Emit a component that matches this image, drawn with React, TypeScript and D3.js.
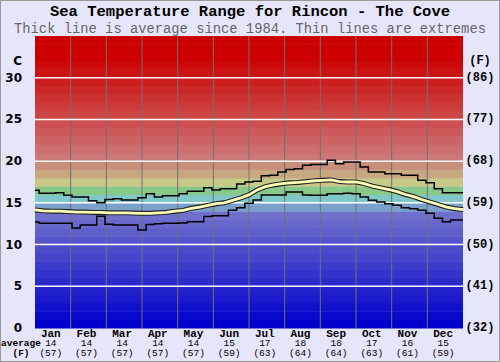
import React, { useEffect, useRef } from 'react';
import * as d3 from "d3";

// weekly readings (deg C), week 0 = 1 Jan
const maxTemps = [16.5, 16.15, 16.15, 16.2, 15.9, 15.7, 15.7, 15.25, 15.0, 15.4, 15.5, 15.35, 15.35, 15.6,
  16.1, 15.7, 15.85, 15.85, 16.1, 16.4, 16.4, 16.8, 16.55, 16.7, 16.7, 17.25, 17.5, 17.6, 18.25, 18.3,
  18.7, 19.0, 19.1, 19.5, 19.6, 19.6, 20.1, 19.7, 19.9, 19.9, 19.3, 18.7, 18.7, 18.5, 18.5, 18.3, 18.3,
  17.7, 17.4, 16.7, 16.2, 16.2, 16.2];
const avgTemps = [14.15, 14.05, 14.0, 14.0, 13.95, 13.9, 13.9, 13.85, 13.85, 13.8, 13.8, 13.8, 13.78, 13.75,
  13.75, 13.8, 13.87, 14.0, 14.1, 14.35, 14.5, 14.7, 14.9, 15.0, 15.3, 15.6, 15.95, 16.55, 16.95, 17.15,
  17.3, 17.4, 17.45, 17.55, 17.65, 17.7, 17.75, 17.55, 17.5, 17.5, 17.3, 17.0, 16.8, 16.6, 16.35, 16.0,
  15.75, 15.4, 15.1, 14.8, 14.5, 14.3, 14.2];
const minTemps = [12.7, 12.55, 12.55, 12.55, 12.55, 12.0, 12.35, 12.35, 13.4, 12.45, 12.35, 12.35, 12.35, 11.75,
  12.4, 12.5, 12.55, 12.55, 12.6, 12.75, 12.75, 13.35, 13.45, 13.45, 14.1, 14.4, 14.95, 15.35, 15.95, 15.95,
  15.95, 16.3, 16.3, 15.95, 15.9, 15.9, 16.1, 16.1, 16.15, 16.1, 15.7, 15.3, 15.1, 14.9, 14.7, 14.4, 14.3,
  14.1, 13.75, 13.15, 12.75, 12.95, 12.95];

const months = ["Jan", "Feb", "Mar", "Apr", "May", "Jun", "Jul", "Aug", "Sep", "Oct", "Nov", "Dec"];
const monthAvgC = [14, 14, 14, 14, 14, 15, 17, 18, 18, 17, 16, 15];
const monthAvgF = [57, 57, 57, 57, 57, 59, 63, 64, 64, 63, 61, 59];
const cTicks = [0, 5, 10, 15, 20, 25, 30];
const fTicks = [32, 41, 50, 59, 68, 77, 86];

// colour of the 1-degree band starting at t
function bandColor(t: number) {
  if (t >= 32) return "#cc0000";
  if (t >= 20) { const g = (32 - t) * 10; return `rgb(204,${g},${g})`; }
  const mid: { [k: number]: string } = { 19: "#c8907c", 18: "#c8a880", 17: "#c8c888", 16: "#88c888", 15: "#80c8c8", 14: "#7aa0cc" };
  if (mid[t]) return mid[t];
  const k = Math.round(t * 8.6);
  return `rgb(${k},${k},204)`;
}

const W = 500, H = 362;
const left = 35, right = 463, top = 36, bottom = 328;
const mono = "'Liberation Mono', 'DejaVu Sans Mono', monospace";

function App() {
  const ref = useRef<SVGSVGElement>(null);

  useEffect(() => {
    const svg = d3.select(ref.current);
    svg.selectAll("*").remove();

    const x = d3.scaleLinear().domain([0, maxTemps.length - 1]).range([left, right]);
    const y = d3.scaleLinear().domain([0, 35]).range([bottom, top]);
    const mx = d3.scaleBand().domain(months).range([left, right]);

    svg.append("rect").attr("fill", "#e6e6fa")
      .attr("stroke", "#999").attr("x", 0.5).attr("y", 0.5).attr("width", W - 1).attr("height", H - 1);

    // colour bands
    svg.append("g").selectAll("rect").data(d3.range(0, 35)).join("rect")
      .attr("x", left).attr("width", right - left)
      .attr("y", d => y(d + 1)).attr("height", d => y(d) - y(d + 1) + 0.5)
      .attr("fill", d => bandColor(d));

    // month separators
    svg.append("g").selectAll("line").data(months.slice(1)).join("line")
      .attr("x1", d => mx(d)!).attr("x2", d => mx(d)!)
      .attr("y1", top).attr("y2", bottom)
      .attr("stroke", "#707070").attr("stroke-width", 1);

    // white gridlines
    svg.append("g").selectAll("line").data(cTicks.slice(1)).join("line")
      .attr("x1", left).attr("x2", right)
      .attr("y1", d => y(d)).attr("y2", d => y(d))
      .attr("stroke", "#fff").attr("stroke-width", 1.5);

    const stepLine = d3.line<number>().x((d, i) => x(i)).y(d => y(d)).curve(d3.curveStep);
    const smoothLine = d3.line<number>().x((d, i) => x(i)).y(d => y(d));

    svg.append("path").attr("d", stepLine(maxTemps)).attr("fill", "none").attr("stroke", "#000").attr("stroke-width", 1.5);
    svg.append("path").attr("d", stepLine(minTemps)).attr("fill", "none").attr("stroke", "#000").attr("stroke-width", 1.5);
    svg.append("path").attr("d", smoothLine(avgTemps)).attr("fill", "none").attr("stroke", "#222").attr("stroke-width", 5);
    svg.append("path").attr("d", smoothLine(avgTemps)).attr("fill", "none").attr("stroke", "#ffffb8").attr("stroke-width", 2.8);

    // titles
    svg.append("text").attr("x", 250).attr("y", 16).attr("text-anchor", "middle")
      .attr("font-family", mono).attr("font-weight", "bold").attr("font-size", 15.5)
      .text("Sea Temperature Range for Rincon - The Cove");
    svg.append("text").attr("x", 250).attr("y", 32.5).attr("text-anchor", "middle")
      .attr("font-family", mono).attr("font-size", 13.8).attr("fill", "#666")
      .text("Thick line is average since 1984. Thin lines are extremes");

    // left axis (C)
    svg.append("text").attr("x", 22).attr("y", 61).attr("text-anchor", "end").attr("dominant-baseline", "central")
      .attr("font-family", "'DejaVu Sans', sans-serif").attr("font-weight", "bold").attr("font-size", 12).text("C");
    svg.append("g").selectAll("text").data(cTicks).join("text")
      .attr("x", 22).attr("y", d => y(d)).attr("text-anchor", "end").attr("dominant-baseline", "central")
      .attr("font-family", "'DejaVu Sans', sans-serif").attr("font-weight", "bold").attr("font-size", 12)
      .text(d => d);

    // right axis (F)
    svg.append("text").attr("x", 480).attr("y", 61).attr("text-anchor", "middle").attr("dominant-baseline", "central")
      .attr("font-family", mono).attr("font-weight", "bold").attr("font-size", 12).text("(F)");
    svg.append("g").selectAll("text").data(fTicks).join("text")
      .attr("x", 480).attr("y", (d, i) => y(cTicks[i])).attr("text-anchor", "middle").attr("dominant-baseline", "central")
      .attr("font-family", mono).attr("font-weight", "bold").attr("font-size", 12)
      .text(d => `(${d})`);

    // month labels
    const g = svg.append("g").attr("font-family", mono).attr("text-anchor", "middle");
    months.forEach((m, i) => {
      const cx = mx(m)! + mx.bandwidth() / 2 - 2;
      g.append("text").attr("x", cx).attr("y", 336.5).attr("font-weight", "bold").attr("font-size", 11).text(m);
      g.append("text").attr("x", cx).attr("y", 346).attr("font-size", 9.5).text(monthAvgC[i]);
      g.append("text").attr("x", cx).attr("y", 355.5).attr("font-size", 9.5).text(`(${monthAvgF[i]})`);
    });
    g.append("text").attr("x", 21).attr("y", 346).attr("font-weight", "bold").attr("font-size", 9.5).text("average");
    g.append("text").attr("x", 21).attr("y", 355.5).attr("font-weight", "bold").attr("font-size", 9.5).text("(F)");
  }, []);

  return (
    <svg ref={ref} width={W} height={H} style={{ position: "absolute", left: 0, top: 0 }} />
  );
}

export default App;
